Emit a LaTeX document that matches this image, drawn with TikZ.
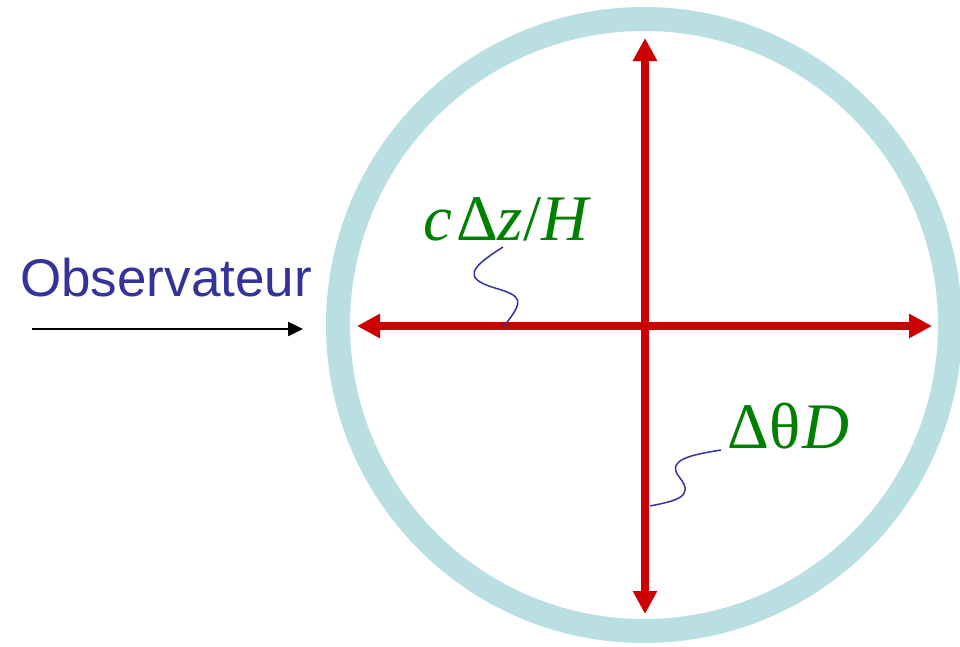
\documentclass[tikz,border=0pt]{standalone}
\usepackage{fontspec}
\setmainfont{Liberation Sans}
\newfontfamily\tms{Liberation Serif}
\usetikzlibrary{arrows.meta}
\definecolor{ringblue}{RGB}{185,223,226}
\definecolor{axred}{RGB}{204,0,0}
\definecolor{lblgreen}{RGB}{0,128,0}
\definecolor{obsblue}{RGB}{51,51,153}
\tikzset{
  axis/.style={draw=axred, line width=8pt, -{Triangle[length=23pt,width=23pt]}},
  lbl/.style={inner sep=0pt, text=lblgreen, font=\tms\fontsize{65}{70}\selectfont},
  lead/.style={draw=obsblue, line width=1.5pt},
}
\begin{document}
\begin{tikzpicture}[x=1pt,y=-1pt]
\useasboundingbox (0,0) rectangle (960,646);
\fill[white] (0,0) rectangle (960,646);
% ring
\node[draw=ringblue, line width=24pt, circle, minimum size=612pt, inner sep=0pt] (ring) at (644,325) {};
% axes
\coordinate (top) at (645,38);
\coordinate (bot) at (645,614);
\coordinate (left) at (357,326);
\coordinate (right) at (932,326);
\coordinate (ctr) at (645,326);
\draw[axis] (ctr) -- (top);
\draw[axis] (ctr) -- (bot);
\draw[axis] (ctr) -- (left);
\draw[axis] (ctr) -- (right);
% observer
\node[inner sep=0pt, anchor=base west, text=obsblue, font=\fontsize{53}{60}\selectfont] (obs) at (20,296) {Observateur};
\coordinate (obsA) at (32,329);
\coordinate (obsB) at (303,329);
\draw[line width=2.5pt, -{Triangle[length=15pt,width=14pt]}] (obsA) -- (obsB);
% labels
\node[lbl, anchor=base west] (lz) at (423,240) {{\itshape c}\hspace{4pt}Δ{\itshape z}/{\itshape H}};
\node[lbl, anchor=base west] (lt) at (727,448) {Δθ\hspace{2pt}{\itshape D}};
% leaders
\coordinate (z0) at (504,326);
\coordinate (z1) at (495,288);
\coordinate (z2) at (503,247);
\draw[lead] (z0) .. controls (525,300) and (522,296) .. (z1) .. controls (462,278) and (470,268) .. (z2);
\coordinate (t0) at (650,506);
\coordinate (t1) at (680,478);
\coordinate (t2) at (721,450);
\draw[lead] (t0) .. controls (675,501) and (695,497) .. (t1) .. controls (665,460) and (690,455) .. (t2);
\end{tikzpicture}
\end{document}
